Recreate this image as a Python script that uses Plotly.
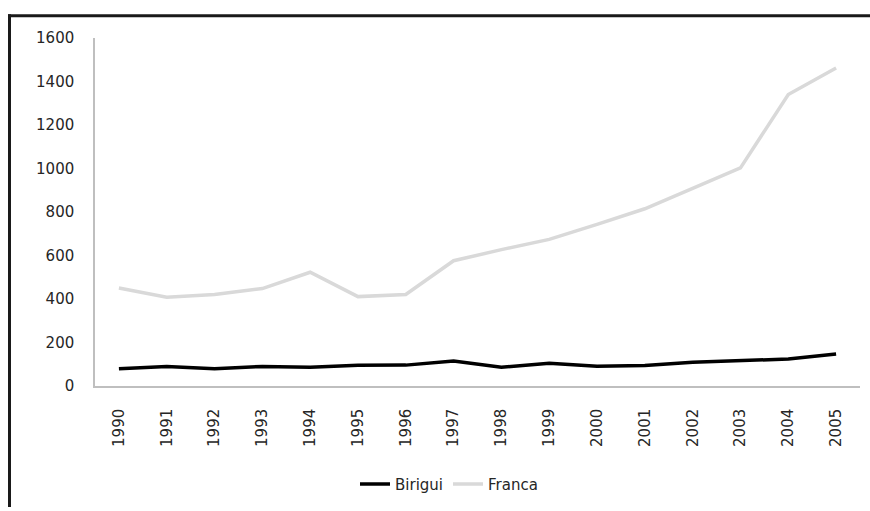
import plotly.graph_objects as go

years = [str(y) for y in range(1990, 2006)]
birigui = [79, 90, 79, 90, 86, 95, 96, 115, 86, 105, 91, 94, 109, 116, 124, 147]
franca = [451, 408, 421, 448, 523, 411, 421, 576, 627, 674, 743, 815, 909, 1003, 1340, 1462]
y_ticks = [0, 200, 400, 600, 800, 1000, 1200, 1400, 1600]

fig = go.Figure()
fig.add_trace(go.Scatter(x=years, y=birigui, mode="lines", name="Birigui",
                         line=dict(color="#000000", width=3.5)))
fig.add_trace(go.Scatter(x=years, y=franca, mode="lines", name="Franca",
                         line=dict(color="#d9d9d9", width=3.5)))

W, H = 870, 511
L, R, T, B = 95, W - 860, 38, H - 389
pw = W - L - R
ph = H - T - B

def px(x):
    return (x - L) / pw

def py(y):
    return (H - B - y) / ph

# outer chart-area frame (only its top and left edges are inside the picture)
fig.add_shape(type="rect", xref="paper", yref="paper", x0=px(8), x1=px(870), y0=py(17), y1=py(14),
              line=dict(width=0), fillcolor="#1a1a1a", layer="above")
fig.add_shape(type="rect", xref="paper", yref="paper", x0=px(8), x1=px(11), y0=py(511), y1=py(14),
              line=dict(width=0), fillcolor="#1a1a1a", layer="above")

fnt = "DejaVu Sans"
fig.update_layout(
    width=W, height=H,
    margin=dict(l=L, r=R, t=T, b=B),
    paper_bgcolor="white", plot_bgcolor="white",
    font=dict(family=fnt, size=15, color="#262626"),
    showlegend=True,
    legend=dict(orientation="h", x=px(449), xanchor="center", y=py(488), yanchor="middle",
                font=dict(size=15, color="#262626")),
)
fig.update_xaxes(type="category", showgrid=False, showline=True, linecolor="#bfbfbf", linewidth=1.5,
                 tickangle=-90, ticks="", ticklabelstandoff=15, range=[-0.5, 15.5], automargin=False)
fig.update_yaxes(range=[0, 1600], tickvals=y_ticks, showgrid=False, showline=True,
                 linecolor="#bfbfbf", linewidth=1.5, ticks="", ticklabelstandoff=16, zeroline=False,
                 automargin=False)

fig.write_html("out.html", config={"displayModeBar": False},
               post_script="document.body.style.margin='0';document.body.style.overflow='hidden';")
